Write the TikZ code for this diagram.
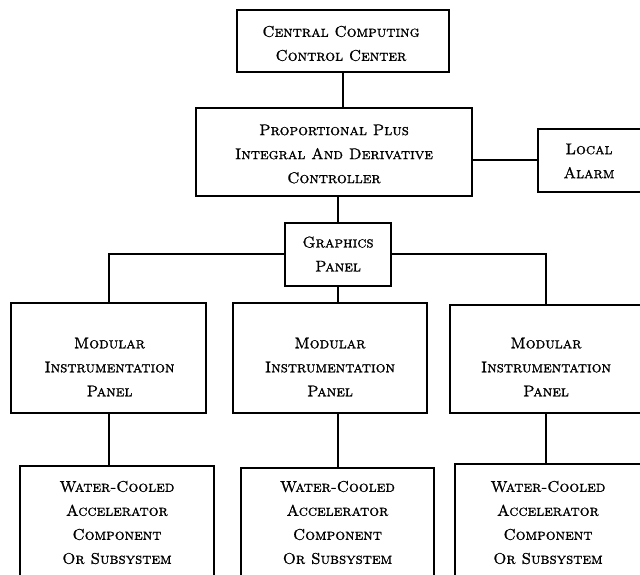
\documentclass[tikz,border=0pt]{standalone}
\usepackage{fontspec}
\newfontfamily\capsfont{lmromancaps10-regular.otf}[FakeBold=1.2]
\begin{document}
\tikzset{
  box/.style={draw, line width=2pt, rectangle, inner sep=0pt},
  lbl/.style={align=center, inner sep=0pt, font=\capsfont\fontsize{15.5}{24}\selectfont},
  wire/.style={line width=2pt},
}
\begin{tikzpicture}[x=1pt,y=-1pt]
\useasboundingbox (0,0) rectangle (640,575);
\clip (0,0) rectangle (640,575);
% boxes
\node[box, minimum width=212pt, minimum height=62pt] (central) at (343,41) {};
\node[box, minimum width=276pt, minimum height=88pt] (pid) at (334,152) {};
\node[box, minimum width=104pt, minimum height=63pt] (alarm) at (590,160.5) {};
\node[box, minimum width=106pt, minimum height=63pt] (graphics) at (338,254) {};
\node[box, minimum width=195pt, minimum height=110pt] (mod1) at (108.5,358) {};
\node[box, minimum width=194pt, minimum height=110pt] (mod2) at (330,358) {};
\node[box, minimum width=192pt, minimum height=108pt] (mod3) at (546,359) {};
\node[box, minimum width=194pt, minimum height=112pt] (bot1) at (117,522) {};
\node[box, minimum width=193pt, minimum height=110pt] (bot2) at (337.5,523) {};
\node[box, minimum width=190pt, minimum height=114pt] (bot3) at (550,521) {};
% labels
\node[lbl] (centralt) at (341,43.5) {Central Computing\\Control Center};
\node[lbl] (pidt) at (334,154) {Proportional Plus\\Integral And Derivative\\Controller};
\node[lbl] (alarmt) at (589,161) {Local\\Alarm};
\node[lbl] (graphicst) at (338,254) {Graphics\\Panel};
\node[lbl] (mod1t) at (109.5,367) {Modular\\Instrumentation\\Panel};
\node[lbl] (mod2t) at (330,367) {Modular\\Instrumentation\\Panel};
\node[lbl] (mod3t) at (546,367) {Modular\\Instrumentation\\Panel};
\node[lbl] (bot1t) at (117,522.5) {Water-Cooled\\Accelerator\\Component\\Or Subsystem};
\node[lbl] (bot2t) at (337.5,522.5) {Water-Cooled\\Accelerator\\Component\\Or Subsystem};
\node[lbl] (bot3t) at (548,522.5) {Water-Cooled\\Accelerator\\Component\\Or Subsystem};
% connectors
\draw[wire] (central.south) -- (central.south |- pid.north);
\draw[wire] (graphics.north) -- (graphics.north |- pid.south);
\draw[wire] (alarm.west) -- (alarm.west -| pid.east);
\draw[wire] (graphics.west) -| (mod1.north);
\draw[wire] (graphics.east) -| (mod3.north);
\draw[wire] (graphics.south) -- (graphics.south |- mod2.north);
\draw[wire] (mod1.south) -- (mod1.south |- bot1.north);
\draw[wire] (bot2.north) -- (bot2.north |- mod2.south);
\draw[wire] (mod3.south) -- (mod3.south |- bot3.north);
\end{tikzpicture}
\end{document}
